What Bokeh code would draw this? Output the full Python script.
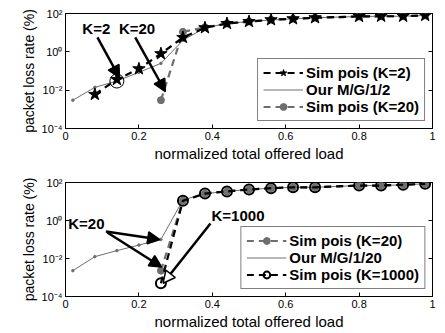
from bokeh.plotting import figure
from bokeh.layouts import column
from bokeh.models import (Legend, LegendItem, Arrow, NormalHead, FixedTicker,
                          CustomJSTickFormatter, LogAxis, Label)
from bokeh.embed import file_html
from bokeh.resources import INLINE

# ---------------- data ----------------
x_mg = [0.02, 0.08, 0.14, 0.20, 0.26, 0.32, 0.38, 0.44, 0.50, 0.56, 0.62, 0.68, 0.80, 0.86, 0.92, 0.98]
x_sim = [0.08, 0.14, 0.20, 0.26, 0.32, 0.38, 0.44, 0.50, 0.56, 0.62, 0.68, 0.80, 0.86, 0.92, 0.98]
x_hi = [0.26, 0.32, 0.38, 0.44, 0.50, 0.56, 0.62, 0.68, 0.80, 0.86, 0.92, 0.98]

# top panel
y_mg2 = [0.003, 0.014, 0.03, 0.085, 0.25, 4.0, 18, 30, 38, 46, 53, 60, 70, 72, 72, 79]
y_sim2 = [0.006, 0.036, 0.13, 0.8, 5.6, 18, 30, 38, 47, 53, 60, 70, 72, 72, 79]
y_sim20_top = [0.003, 11, 19, 30, 38, 47, 53, 60, 70, 72, 72, 79]

# bottom panel
y_mg20 = [0.0023, 0.0125, 0.026, 0.051, 0.1, 12, 26, 34, 43, 50, 56, 56, 69, 69, 76, 85]
y_sim20 = [0.0023, 11, 26, 34, 43, 50, 56, 56, 69, 69, 76, 85]
y_sim1000 = [0.0005, 11, 26, 34, 43, 50, 56, 56, 69, 69, 76, 85]

x_ticks = [0, 0.2, 0.4, 0.6, 0.8, 1]
y_ticks = [1e-4, 1e-2, 1, 1e2]

FONT = "Liberation Sans"
GRAY = "#6e6e6e"

yfmt_code = """
const sup = {'-':'\u207b','0':'\u2070','1':'\u00b9','2':'\u00b2','3':'\u00b3','4':'\u2074'};
const e = Math.round(Math.log10(tick));
return '10' + String(e).split('').map(c => sup[c]).join('');
"""
xfmt_code = "return (Math.abs(tick) < 1e-9) ? '0' : (Math.abs(tick-1) < 1e-9 ? '1' : tick.toFixed(1));"


def make_fig(height, top_border):
    p = figure(width=445, height=height, x_range=(0, 1), y_range=(1e-4, 1e2),
               y_axis_type="log", output_backend="svg", toolbar_location=None,
               min_border_left=65, min_border_right=13, min_border_top=top_border,
               min_border_bottom=37)
    p.xgrid.visible = False
    p.ygrid.visible = False
    p.outline_line_color = "black"
    p.outline_line_width = 1
    p.background_fill_color = "white"
    p.xaxis.ticker = FixedTicker(ticks=x_ticks)
    p.yaxis.ticker = FixedTicker(ticks=y_ticks)
    p.xaxis.formatter = CustomJSTickFormatter(code=xfmt_code)
    p.yaxis.formatter = CustomJSTickFormatter(code=yfmt_code)
    for ax in (p.xaxis[0], p.yaxis[0]):
        ax.major_tick_in = 4
        ax.major_tick_out = 0
        ax.minor_tick_in = 0
        ax.minor_tick_out = 0
        ax.axis_line_color = "black"
        ax.major_label_text_font = FONT
        ax.major_label_text_font_size = "11px"
        ax.major_label_text_color = "black"
        ax.axis_label_text_font = FONT
        ax.axis_label_text_font_style = "normal"
        ax.axis_label_text_color = "black"
        ax.major_label_standoff = 3
        ax.axis_label_standoff = 2
    p.xaxis.axis_label = "normalized total offered load"
    p.xaxis.axis_label_text_font_size = "15px"
    p.yaxis.axis_label = "packet loss rate (%)"
    p.yaxis.axis_label_text_font_size = "14px"
    rax = LogAxis(ticker=FixedTicker(ticks=y_ticks),
                  formatter=CustomJSTickFormatter(code="return '';"))
    rax.major_tick_in = 4
    rax.major_tick_out = 0
    rax.minor_tick_in = 0
    rax.minor_tick_out = 0
    rax.major_label_text_font_size = "0px"
    rax.axis_line_color = "black"
    p.add_layout(rax, "right")
    return p


def style_legend(p, items):
    lg = Legend(items=items, location="bottom_right", margin=7, padding=5,
                spacing=0, glyph_width=40, glyph_height=17, label_height=17,
                label_standoff=3, label_text_font=FONT, label_text_font_size="15px",
                label_text_font_style="bold", label_text_color="black",
                border_line_color="black", border_line_width=1,
                background_fill_color="white", background_fill_alpha=1)
    p.add_layout(lg, "center")


def bold_label(p, x, y, text):
    p.add_layout(Label(x=x, y=y, text=text, text_font=FONT, text_font_size="15px",
                       text_font_style="bold", text_align="center",
                       text_baseline="middle", text_color="black"))


def arrow(p, xs, ys, xe, ye, fill="black"):
    p.add_layout(Arrow(end=NormalHead(size=12, fill_color=fill, line_color="black",
                                      line_width=1.5),
                       x_start=xs, y_start=ys, x_end=xe, y_end=ye,
                       line_width=2.5, line_color="black"))


# ---------------- top ----------------
p1 = make_fig(165, 13)
mg_l = p1.line(x_mg, y_mg2, line_color=GRAY, line_width=1)
mg_s = p1.scatter(x_mg, y_mg2, size=2.5, color=GRAY)
s20_l = p1.line(x_hi, y_sim20_top, line_color=GRAY, line_width=2.2, line_dash="7 5")
s20_s = p1.scatter(x_hi, y_sim20_top, size=7, color=GRAY)
s2_l = p1.line(x_sim, y_sim2, line_color="black", line_width=2.2, line_dash="7 5")
s2_s = p1.scatter(x_sim, y_sim2, marker="star", size=13, color="black")
p1.scatter([x_mg[2]], [y_mg2[2]], size=14, fill_alpha=0, line_color="black", line_width=1)

bold_label(p1, 0.084, 10 ** 1.22, "K=2")
bold_label(p1, 0.195, 10 ** 1.22, "K=20")
arrow(p1, 0.087, 10 ** 0.75, 0.147, 10 ** -1.35)
arrow(p1, 0.19, 10 ** 0.75, 0.272, 10 ** -2.07)

style_legend(p1, [
    LegendItem(label="Sim pois (K=2)", renderers=[s2_l, s2_s]),
    LegendItem(label="Our M/G/1/2", renderers=[mg_l]),
    LegendItem(label="Sim pois (K=20)", renderers=[s20_l, s20_s]),
])

# ---------------- bottom ----------------
p2 = make_fig(168, 17)
mg2_l = p2.line(x_mg, y_mg20, line_color=GRAY, line_width=1)
mg2_s = p2.scatter(x_mg, y_mg20, size=2.5, color=GRAY)
k20_l = p2.line(x_hi, y_sim20, line_color=GRAY, line_width=2.2, line_dash="7 5")
k20_s = p2.scatter(x_hi, y_sim20, size=7, color=GRAY)
k1000_l = p2.line(x_hi, y_sim1000, line_color="black", line_width=2.2, line_dash="7 5")
k1000_s = p2.scatter(x_hi, y_sim1000, size=10, fill_alpha=0, line_color="black", line_width=2)

bold_label(p2, 0.057, 10 ** -0.16, "K=20")
bold_label(p2, 0.47, 10 ** 0.26, "K=1000")
arrow(p2, 0.11, 10 ** -0.58, 0.257, 10 ** -1.0)
arrow(p2, 0.114, 10 ** -0.63, 0.262, 10 ** -2.45)
arrow(p2, 0.395, 10 ** -0.16, 0.266, 10 ** -3.3, fill="white")

style_legend(p2, [
    LegendItem(label="Sim pois (K=20)", renderers=[k20_l, k20_s]),
    LegendItem(label="Our M/G/1/20", renderers=[mg2_l]),
    LegendItem(label="Sim pois (K=1000)", renderers=[k1000_l, k1000_s]),
])

layout = column(p1, p2, spacing=0)
open("out.html", "w").write(file_html(layout, INLINE))
